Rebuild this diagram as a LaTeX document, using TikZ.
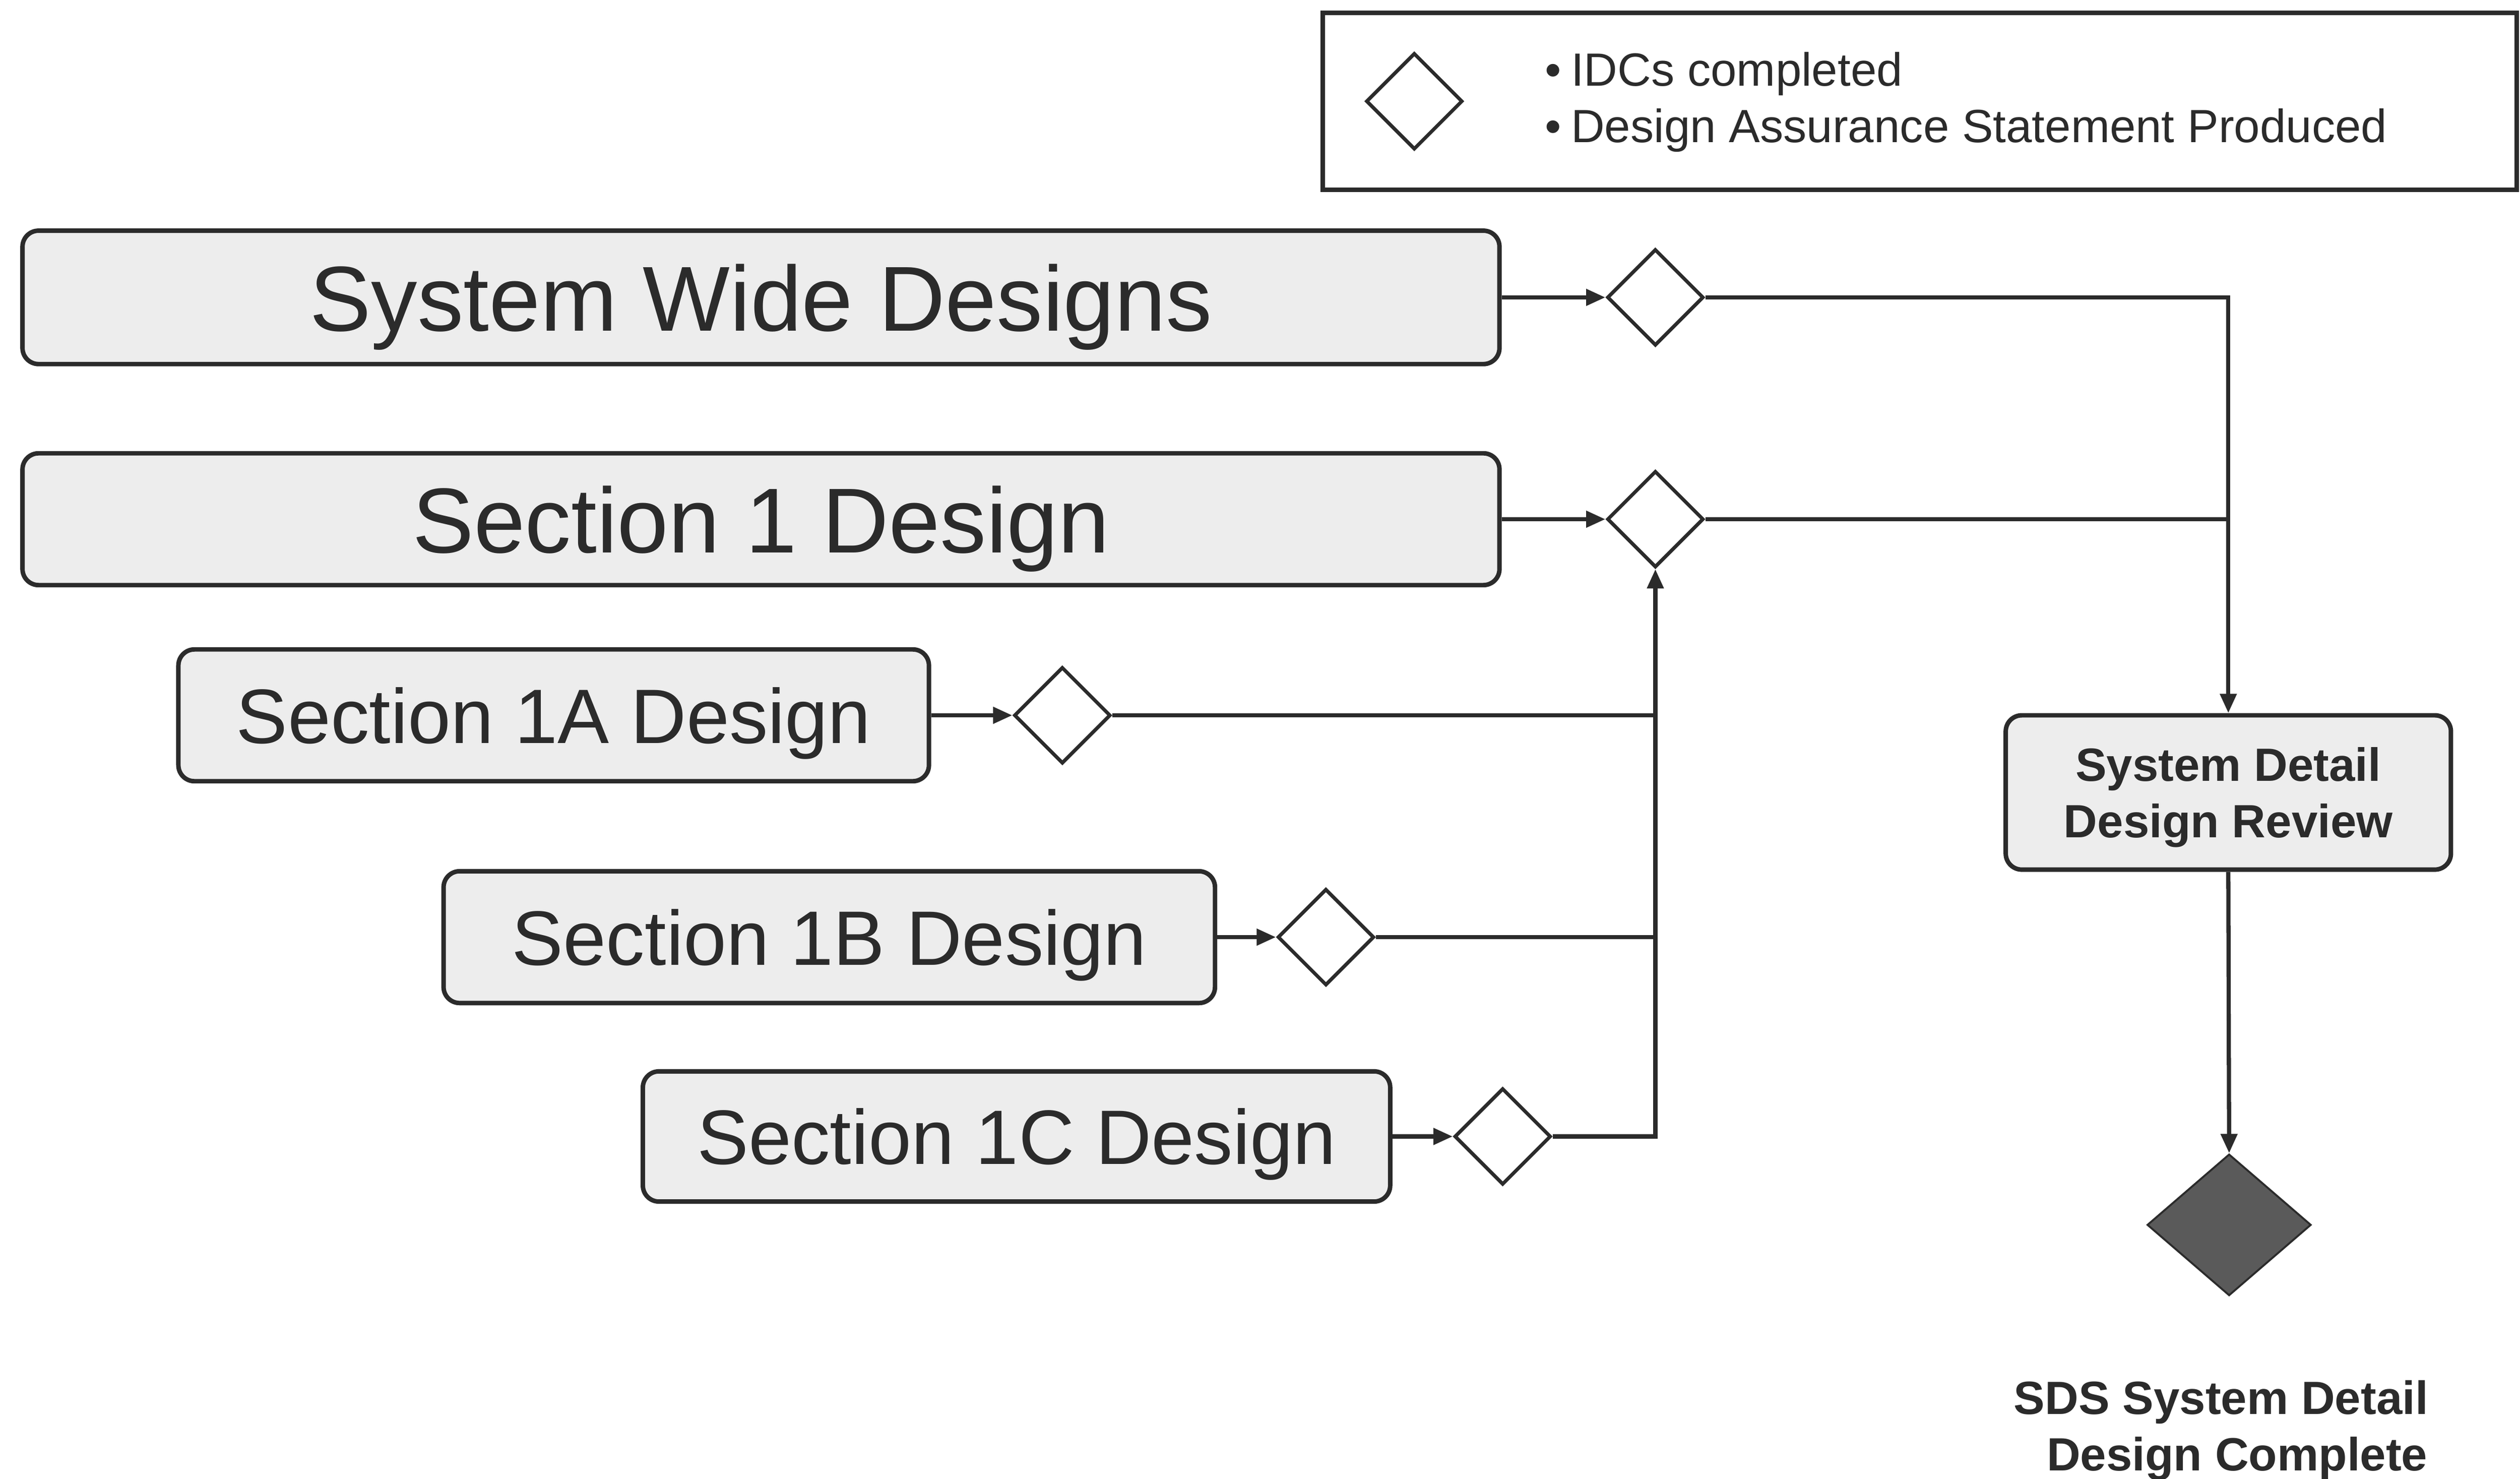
\documentclass[tikz,border=0pt]{standalone}
\usepackage{fontspec}
\setmainfont{Liberation Sans}
\usetikzlibrary{shapes.geometric,arrows.meta}
\definecolor{ink}{HTML}{2B2B2B}
\definecolor{boxfill}{HTML}{EDEDED}
\definecolor{darkfill}{HTML}{5A5A5A}
\begin{document}
\begin{tikzpicture}[x=0.5pt,y=-0.5pt,
  procbox/.style={draw=ink, line width=1.4pt, fill=boxfill, rounded corners=5pt, inner sep=0pt, text=ink, text depth=0pt},
  bigtext/.style={font=\fontsize{28.7}{34}\selectfont},
  midtext/.style={font=\fontsize{24}{29}\selectfont},
  milestone/.style={diamond, draw=ink, line width=1.1pt, fill=white, minimum width=30pt, minimum height=30pt, inner sep=0pt},
  link/.style={draw=ink, line width=1.3pt},
  arr/.style={link, -{Triangle[length=6pt,width=5pt]}},
  legendbox/.style={draw=ink, line width=1.4pt, fill=white, inner sep=0pt}
]
\useasboundingbox (0,0) rectangle (1568,920);

% legend
\node[legendbox, minimum width=371.5pt, minimum height=55pt] (legend) at (1194.5,63) {};
\node[milestone] (legdia) at (880,63) {};
\node[anchor=west, align=left, text=ink, inner sep=0pt, font=\fontsize{14.5}{17.5}\selectfont] (legtext) at (961,63.5)
  {•\hspace{3pt}IDCs completed\\•\hspace{3pt}Design Assurance Statement Produced};

% process boxes
\node[procbox, bigtext, minimum width=459.5pt, minimum height=41.5pt] (sw) at (473.5,185) {System Wide Designs};
\node[procbox, bigtext, minimum width=459.5pt, minimum height=41pt] (s1) at (473.5,323) {Section 1 Design};
\node[procbox, midtext, minimum width=233.5pt, minimum height=41pt] (s1a) at (344.5,445) {Section 1A Design};
\node[procbox, midtext, minimum width=240pt, minimum height=41pt] (s1b) at (516,583) {Section 1B Design};
\node[procbox, midtext, minimum width=232.5pt, minimum height=40.5pt] (s1c) at (632.5,707) {Section 1C Design};

% milestones
\node[milestone] (dsw) at (1030,185) {};
\node[milestone] (ds1) at (1030,323) {};
\node[milestone] (ds1a) at (661,445) {};
\node[milestone] (ds1b) at (825,583) {};
\node[milestone] (ds1c) at (935,707) {};

% review
\node[procbox, align=center, font=\bfseries\fontsize{14.5}{17.5}\selectfont, minimum width=138.5pt, minimum height=48pt] (sddr) at (1386.5,493)
  {System Detail\\Design Review};
\node[diamond, draw=ink, line width=0.6pt, fill=darkfill, minimum width=51pt, minimum height=44pt, inner sep=0pt] (final) at (1387,762) {};
\node[align=center, text=ink, inner sep=0pt, font=\bfseries\fontsize{14.5}{17.5}\selectfont] (finaltext) at (1382,890)
  {SDS System Detail\\\hspace{10pt}Design Complete};

% connectors
\draw[arr] (sw) -- (dsw);
\draw[arr] (s1) -- (ds1);
\draw[arr] (s1a) -- (ds1a);
\draw[arr] (s1b) -- (ds1b);
\draw[arr] (s1c) -- (ds1c);

\coordinate (j1) at (sddr.north |- ds1.east);
\coordinate (ja) at (ds1.south |- ds1a.east);
\coordinate (jb) at (ds1.south |- ds1b.east);

\draw[arr] (dsw.east) -| (sddr.north);
\draw[link] (ds1.east) -- (j1);
\draw[link] (ds1a.east) -- (ja);
\draw[link] (ds1b.east) -- (jb);
\draw[arr] (ds1c.east) -| (ds1.south);
\draw[arr] (sddr.south) -- (final.north);
\end{tikzpicture}
\end{document}
